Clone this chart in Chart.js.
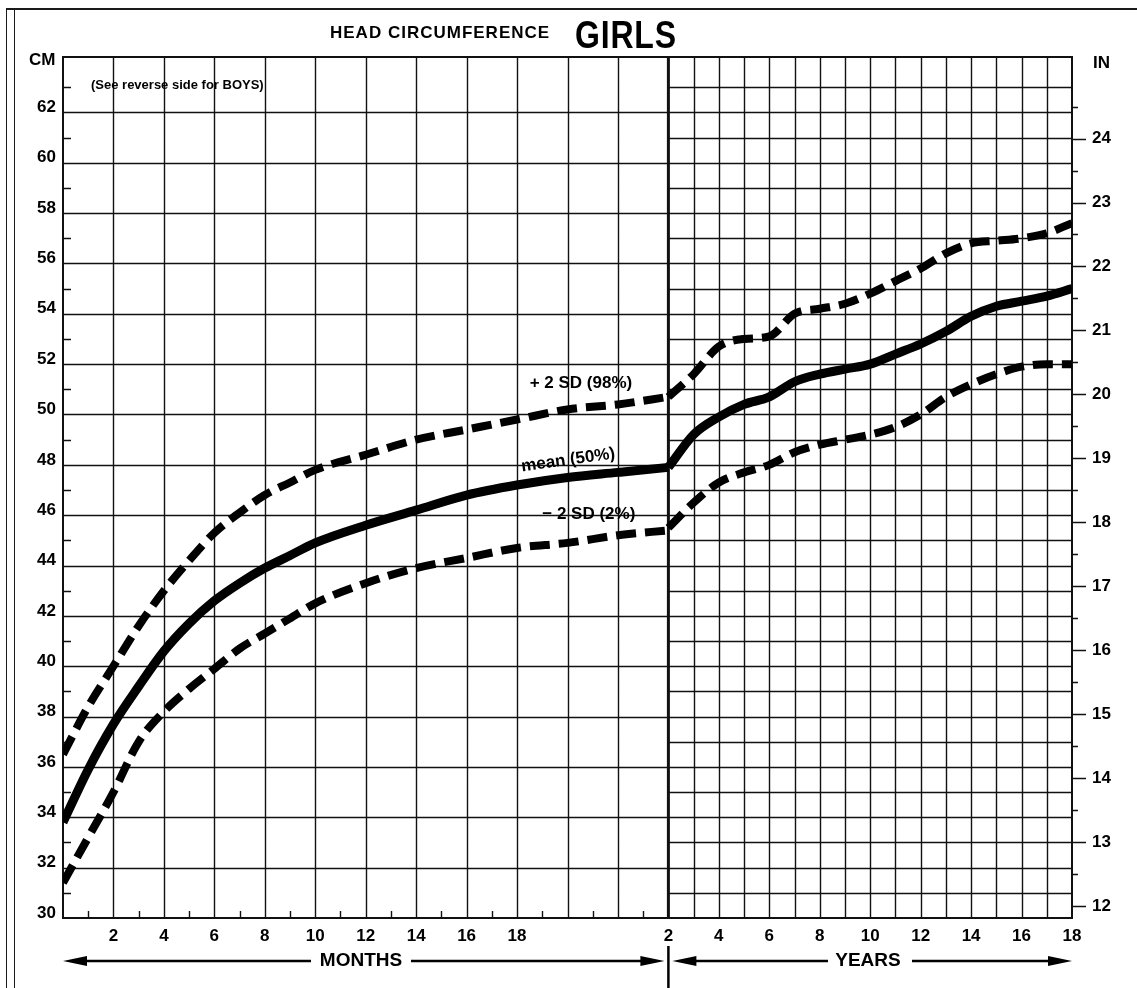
<!DOCTYPE html>
<html lang="en">
    <head>
        <meta charset="UTF-8" />
        <title>Head circumference – girls</title>
        <script src="https://cdn.jsdelivr.net/npm/chart.js"></script>
        <style>
            body {
                margin: 0;
                background: #fff;
                color: #000;
                font-family: 'Liberation Sans', Arial, sans-serif;
                font-weight: bold;
            }
            .sheet {
                position: relative;
                width: 1137px;
                height: 988px;
                overflow: hidden;
            }
            .sheet canvas {
                position: absolute;
                left: 0;
                top: 0;
            }
            .frame-top {
                position: absolute;
                left: 6px;
                right: 0;
                top: 8px;
                border-top: 2px solid #1a1a1a;
            }
            .frame-left {
                position: absolute;
                left: 6px;
                top: 8px;
                bottom: 0;
                width: 7px;
                border-left: 1.5px solid #1a1a1a;
                border-right: 1.5px solid #1a1a1a;
            }
            .title-small {
                position: absolute;
                left: 330px;
                top: 24px;
                font-size: 17px;
                line-height: 17px;
                letter-spacing: 1px;
                white-space: nowrap;
            }
            .title-big {
                position: absolute;
                left: 575px;
                top: 15px;
                font-size: 39px;
                line-height: 39px;
                letter-spacing: 1px;
                transform: scaleX(0.82);
                transform-origin: left top;
            }
            .unit {
                position: absolute;
                font-size: 17px;
                line-height: 17px;
            }
            .note {
                position: absolute;
                left: 91px;
                top: 78px;
                font-size: 13px;
                line-height: 13px;
                white-space: nowrap;
            }
        </style>
    </head>
    <body>
        <div class="sheet">
            <canvas id="headChart" width="1137" height="988"></canvas>
            <div class="frame-top"></div>
            <div class="frame-left"></div>
            <div class="title-small">HEAD CIRCUMFERENCE</div>
            <div class="title-big">GIRLS</div>
            <div class="unit" style="left:29px; top:51px;">CM</div>
            <div class="unit" style="left:1093px; top:54px;">IN</div>
            <div class="note">(See reverse side for BOYS)</div>
        </div>

        <script>
	// ages: first part of the sheet in months, second part in years
	const monthAges = [0, 1, 2, 3, 4, 5, 6, 7, 8, 9, 10, 12, 14, 16, 18, 20, 22, 24];
	const yearAges = [2, 3, 4, 5, 6, 7, 8, 9, 10, 11, 12, 13, 14, 15, 16, 17, 18];

	// head circumference in cm
	const plus2sdMonths = [36.5, 38.4, 40.0, 41.6, 43.0, 44.2, 45.3, 46.1, 46.8, 47.3, 47.8, 48.4, 49.0, 49.4, 49.8, 50.2, 50.4, 50.7];
	const meanMonths = [33.8, 35.9, 37.7, 39.2, 40.6, 41.7, 42.6, 43.3, 43.9, 44.4, 44.9, 45.6, 46.2, 46.8, 47.2, 47.5, 47.7, 47.9];
	const minus2sdMonths = [31.4, 33.2, 35.0, 37.0, 38.2, 39.1, 39.9, 40.7, 41.3, 41.9, 42.5, 43.3, 43.9, 44.3, 44.7, 44.9, 45.2, 45.4];

	const plus2sdYears = [50.7, 51.6, 52.7, 53.0, 53.1, 54.0, 54.2, 54.4, 54.8, 55.3, 55.8, 56.4, 56.8, 56.9, 57.0, 57.2, 57.6];
	const meanYears = [47.9, 49.2, 49.9, 50.4, 50.7, 51.3, 51.6, 51.8, 52.0, 52.4, 52.8, 53.3, 53.9, 54.3, 54.5, 54.7, 55.0];
	const minus2sdYears = [45.5, 46.5, 47.3, 47.7, 48.0, 48.5, 48.8, 49.0, 49.2, 49.5, 50.0, 50.7, 51.2, 51.6, 51.9, 52.0, 52.0];

	// tick labels
	const monthTicks = [2, 4, 6, 8, 10, 12, 14, 16, 18];
	const yearTicks = [2, 4, 6, 8, 10, 12, 14, 16, 18];
	const cmTicks = [30, 32, 34, 36, 38, 40, 42, 44, 46, 48, 50, 52, 54, 56, 58, 60, 62];
	const inchTicks = [12, 13, 14, 15, 16, 17, 18, 19, 20, 21, 22, 23, 24];

	// one grid column per month up to 24 months, then one per year
	const SPLIT = 24;
	const yearToUnit = yr => SPLIT + (yr - 2);
	const unitToLabel = u => u < SPLIT ? String(u) : String(u - SPLIT + 2);

	const CM_MIN = 30, CM_MAX = 64.2, CM_PER_IN = 2.54;
	const FONT = "'Liberation Sans', Arial, sans-serif";

	function series(xs, ys) {
		return xs.map((x, i) => ({x, y: ys[i]}));
	}

	function curve(label, data, dashed) {
		return {
			label,
			data,
			borderColor: '#000',
			borderWidth: dashed ? 8 : 9,
			borderDash: dashed ? [20, 9] : [],
			borderCapStyle: 'butt',
			pointRadius: 0,
			cubicInterpolationMode: 'monotone',
			fill: false
		};
	}

	const monthUnits = monthAges;
	const yearUnits = yearAges.map(yearToUnit);

	const curveLabels = [
		{text: '+ 2 SD (98%)', x: 18.5, y: 51.07, angle: 0},
		{text: 'mean (50%)', x: 18.2, y: 47.74, angle: -8},
		{text: '\u2212 2 SD (2%)', x: 19.0, y: 45.83, angle: 0}
	];

	function arrowHead(ctx, tipX, y, dir) {
		ctx.beginPath();
		ctx.moveTo(tipX, y);
		ctx.lineTo(tipX - dir * 24, y - 5);
		ctx.lineTo(tipX - dir * 24, y + 5);
		ctx.closePath();
		ctx.fill();
	}

	const sheetPlugin = {
		id: 'sheet',
		beforeDatasetsDraw(chart) {
			const {ctx, chartArea: a} = chart;
			const {x, y, yIn} = chart.scales;
			const xSplit = x.getPixelForValue(SPLIT);
			ctx.save();
			ctx.strokeStyle = '#111';
			ctx.lineWidth = 1.4;
			ctx.beginPath();
			// cm lines: every 2 cm across, every cm in the years part
			for (let v = CM_MIN + 1; v <= 63; v++) {
				const py = Math.round(y.getPixelForValue(v)) + 0.5;
				ctx.moveTo(v % 2 === 0 ? a.left : xSplit, py);
				ctx.lineTo(a.right, py);
			}
			// age lines: every 2 months, then every year
			for (let u = 1; u < x.max; u++) {
				if (u === SPLIT || (u < SPLIT && u % 2))
					continue;
				const px = Math.round(x.getPixelForValue(u)) + 0.5;
				ctx.moveTo(px, a.top);
				ctx.lineTo(px, a.bottom);
			}
			// small inside ticks: odd cm on the left, odd months at the bottom
			for (let v = CM_MIN + 1; v <= 63; v += 2) {
				const py = Math.round(y.getPixelForValue(v)) + 0.5;
				ctx.moveTo(a.left, py);
				ctx.lineTo(a.left + 8, py);
			}
			for (let u = 1; u < SPLIT; u += 2) {
				const px = Math.round(x.getPixelForValue(u)) + 0.5;
				ctx.moveTo(px, a.bottom);
				ctx.lineTo(px, a.bottom - 7);
			}
			// outside inch ticks on the right
			for (let v = 12; v <= 24.5; v += 0.5) {
				const py = Math.round(yIn.getPixelForValue(v)) + 0.5;
				ctx.moveTo(a.right, py);
				ctx.lineTo(a.right + (Number.isInteger(v) ? 14 : 6), py);
			}
			ctx.stroke();

			ctx.lineWidth = 3;
			ctx.beginPath();
			ctx.moveTo(xSplit, a.top);
			ctx.lineTo(xSplit, a.bottom);
			ctx.stroke();

			ctx.lineWidth = 2;
			ctx.strokeRect(a.left, a.top, a.right - a.left, a.bottom - a.top);
			ctx.restore();
		},
		afterDatasetsDraw(chart) {
			const {ctx} = chart;
			const {x, y} = chart.scales;
			ctx.save();
			ctx.fillStyle = '#000';
			ctx.font = `bold 17px ${FONT}`;
			ctx.textAlign = 'left';
			ctx.textBaseline = 'alphabetic';
			curveLabels.forEach(l => {
				ctx.save();
				ctx.translate(x.getPixelForValue(l.x), y.getPixelForValue(l.y));
				ctx.rotate(l.angle * Math.PI / 180);
				ctx.fillText(l.text, 0, 0);
				ctx.restore();
			});
			ctx.restore();
		},
		afterDraw(chart) {
			const {ctx, chartArea: a} = chart;
			const x = chart.scales.x;
			const xSplit = x.getPixelForValue(SPLIT);
			const rowY = 961;
			ctx.save();
			ctx.fillStyle = '#000';
			ctx.strokeStyle = '#000';
			ctx.lineWidth = 2.5;
			ctx.font = `bold 19px ${FONT}`;
			ctx.textAlign = 'center';
			ctx.textBaseline = 'middle';

			const monthsMid = 361, yearsMid = 868;
			ctx.fillText('MONTHS', monthsMid, rowY);
			ctx.fillText('YEARS', yearsMid, rowY);

			ctx.beginPath();
			ctx.moveTo(a.left + 10, rowY);
			ctx.lineTo(monthsMid - 50, rowY);
			ctx.moveTo(monthsMid + 50, rowY);
			ctx.lineTo(xSplit - 14, rowY);
			ctx.moveTo(xSplit + 14, rowY);
			ctx.lineTo(yearsMid - 40, rowY);
			ctx.moveTo(yearsMid + 44, rowY);
			ctx.lineTo(a.right - 10, rowY);
			ctx.stroke();
			arrowHead(ctx, a.left, rowY, -1);
			arrowHead(ctx, xSplit - 4, rowY, 1);
			arrowHead(ctx, xSplit + 4, rowY, -1);
			arrowHead(ctx, a.right, rowY, 1);

			ctx.lineWidth = 2.5;
			ctx.beginPath();
			ctx.moveTo(xSplit, 946);
			ctx.lineTo(xSplit, chart.height);
			ctx.stroke();
			ctx.restore();
		}
	};

	const tickFont = {family: FONT, size: 17, weight: 'bold'};

	new Chart(document.getElementById('headChart'), {
		type: 'line',
		data: {
			datasets: [
				curve('+2 SD (98%) months', series(monthUnits, plus2sdMonths), true),
				curve('+2 SD (98%) years', series(yearUnits, plus2sdYears), true),
				curve('mean (50%) months', series(monthUnits, meanMonths), false),
				curve('mean (50%) years', series(yearUnits, meanYears), false),
				curve('-2 SD (2%) months', series(monthUnits, minus2sdMonths), true),
				curve('-2 SD (2%) years', series(yearUnits, minus2sdYears), true)
			]
		},
		options: {
			responsive: false,
			devicePixelRatio: 1,
			animation: false,
			layout: {padding: {top: 57, left: 0, right: 0, bottom: 0}},
			plugins: {
				legend: {display: false},
				tooltip: {enabled: false}
			},
			scales: {
				x: {
					type: 'linear',
					min: 0,
					max: yearToUnit(18),
					grid: {display: false, drawTicks: false},
					border: {display: false},
					afterBuildTicks: s => {
						s.ticks = monthTicks.map(v => ({value: v}))
							.concat(yearTicks.map(v => ({value: yearToUnit(v)})));
					},
					afterFit: s => { s.height = 70; },
					ticks: {
						autoSkip: false,
						maxRotation: 0,
						padding: 8,
						color: '#000',
						font: tickFont,
						callback: v => unitToLabel(v)
					}
				},
				y: {
					type: 'linear',
					position: 'left',
					min: CM_MIN,
					max: CM_MAX,
					grid: {display: false, drawTicks: false},
					border: {display: false},
					afterBuildTicks: s => { s.ticks = cmTicks.map(v => ({value: v})); },
					afterFit: s => { s.width = 63; },
					ticks: {
						padding: 7,
						labelOffset: -5,
						color: '#000',
						font: tickFont,
						callback: v => String(v)
					}
				},
				yIn: {
					type: 'linear',
					position: 'right',
					min: CM_MIN / CM_PER_IN,
					max: CM_MAX / CM_PER_IN,
					grid: {display: false, drawTicks: false},
					border: {display: false},
					afterBuildTicks: s => { s.ticks = inchTicks.map(v => ({value: v})); },
					afterFit: s => { s.width = 65; },
					ticks: {
						padding: 20,
						color: '#000',
						font: tickFont,
						callback: v => String(v)
					}
				}
			}
		},
		plugins: [sheetPlugin]
	});
        </script>
    </body>
</html>
